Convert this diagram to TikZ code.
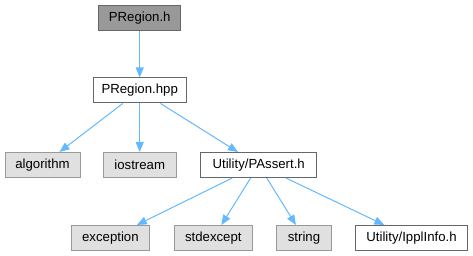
\documentclass[tikz,border=0pt]{standalone}
\usepackage{fontspec}
\setmainfont{Liberation Sans}
\usetikzlibrary{arrows.meta}
\definecolor{edgeblue}{HTML}{63B8FF}
\definecolor{sysfill}{HTML}{E0E0E0}
\definecolor{sysline}{HTML}{999999}
\definecolor{docline}{HTML}{666666}
\definecolor{curfill}{HTML}{999999}
\begin{document}
\begin{tikzpicture}[x=1pt,y=-1pt,
  font=\fontsize{13.2}{15}\selectfont,
  box/.style={rectangle, inner sep=0pt, minimum height=25pt, line width=1pt},
  current/.style={box, draw=docline, fill=curfill},
  local/.style={box, draw=docline, fill=white},
  sys/.style={box, draw=sysline, fill=sysfill},
  dep/.style={draw=edgeblue, line width=1pt, -{Triangle[length=10pt,width=8pt]}}]
  \useasboundingbox (0,0) rectangle (473,256);

  % header and its direct include
  \node[current, minimum width=82pt] (h)   at (139.7,18.5) {PRegion.h};
  \node[local,   minimum width=93pt] (hpp) at (139.7,90.5) {PRegion.hpp};

  % includes of PRegion.hpp
  \node[sys,   minimum width=75pt]  (alg) at (42.5,165)  {algorithm};
  \node[sys,   minimum width=73pt]  (ios) at (139.7,165) {iostream};
  \node[local, minimum width=116pt] (pa)  at (258.7,165) {Utility/PAssert.h};

  % includes of Utility/PAssert.h
  \node[sys,   minimum width=78pt]  (exc) at (110.4,238) {exception};
  \node[sys,   minimum width=78.5pt](std) at (213.3,238) {stdexcept};
  \node[sys,   minimum width=55pt]  (str) at (304,238)   {string};
  \node[local, minimum width=112pt] (ipp) at (411.5,238) {Utility/IpplInfo.h};

  \draw[dep] (h) -- (hpp);
  \draw[dep] (hpp) -- (alg);
  \draw[dep] (hpp) -- (ios);
  \draw[dep] (hpp) -- (pa);
  \draw[dep] (pa) -- (exc);
  \draw[dep] (pa) -- (std);
  \draw[dep] (pa) -- (str);
  \draw[dep] (pa) -- (ipp);
\end{tikzpicture}
\end{document}
